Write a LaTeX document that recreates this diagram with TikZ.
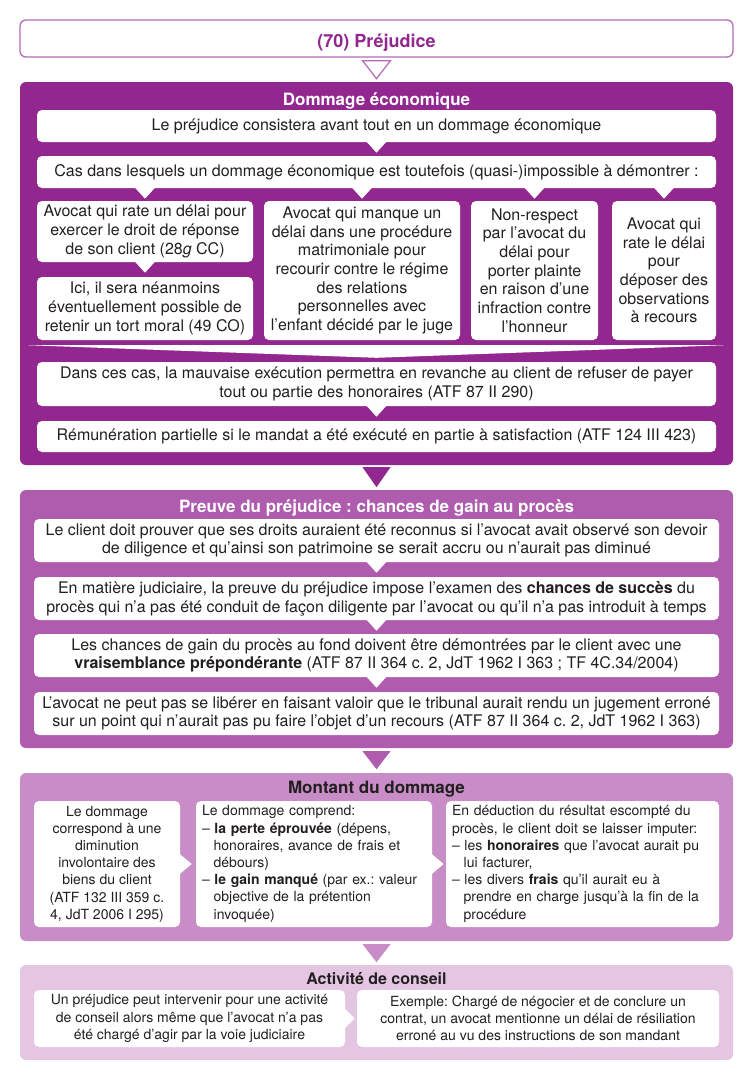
\documentclass[tikz,border=0pt]{standalone}
\usepackage{fontspec}
\setmainfont{TeX Gyre Heros}
\frenchspacing
\definecolor{plum}{HTML}{92278F}
\definecolor{orchid}{HTML}{AF5CAE}
\definecolor{mauve}{HTML}{C88DC7}
\definecolor{lilac}{HTML}{E4C6E3}
\definecolor{rim}{HTML}{B36BB3}
\definecolor{ink}{HTML}{231F20}
\newcommand{\dashgap}{\hspace*{0.834em}}
\tikzset{
	panelbox/.style={rounded corners=6pt, inner sep=0pt},
	cardbox/.style={fill=white, rounded corners=5pt, inner sep=0pt, align=center, text=ink, font=\fontsize{16}{18.7}\selectfont},
	smallcard/.style={font=\fontsize{14}{17.2}\selectfont},
	headtext/.style={anchor=base, font=\fontsize{17}{20}\selectfont\bfseries},
}
\begin{document}
\begin{tikzpicture}[x=1pt, y=-1pt, line join=round]
			\useasboundingbox (0,0) rectangle (752,1079);
			
			\node[draw=rim, line width=1.3pt, rounded corners=6pt, inner sep=0pt, minimum width=713, minimum height=37] (title) at (376.5,38.5) {};
			\node[headtext, text=plum, font=\fontsize{18}{20}\selectfont\bfseries] (titletext) at (376.5,47) {(70) Préjudice};
			\draw[rim, line width=1.2pt, line join=miter] (title.south) ++(-14,3) -- ++(28,0) -- ++(-14,18) -- cycle;
			
			% Dommage economique
			\node[panelbox, fill=plum, minimum width=713, minimum height=383] (dom) at (376.5,273.5) {};
			\node[headtext, text=white] (domhead) at (376.5,105) {Dommage économique};
			\node[cardbox, minimum width=679, minimum height=32] (e1) at (376.5,126) {Le préjudice consistera avant tout en un dommage économique};
			\node[cardbox, minimum width=679, minimum height=32] (e2) at (376.5,172) {Cas dans lesquels un dommage économique est toutefois (quasi-)impossible à démontrer :};
			\node[cardbox, minimum width=216, minimum height=61] (colA) at (145,231.5) {Avocat qui rate un délai pour\\exercer le droit de réponse\\de son client (28\textit{g} CC)};
			\node[cardbox, minimum width=216, minimum height=63] (colAb) at (145,308.5) {Ici, il sera néanmoins\\éventuellement possible de\\retenir un tort moral (49 CO)};
			\node[cardbox, minimum width=196, minimum height=139] (colB) at (362,270.5) {Avocat qui manque un\\délai dans une procédure\\matrimoniale pour\\recourir contre le régime\\des relations\\personnelles avec\\l’enfant décidé par le juge};
			\node[cardbox, minimum width=127, minimum height=139] (colC) at (534.5,270.5) {Non-respect\\par l’avocat du\\délai pour\\porter plainte\\en raison d’une\\infraction contre\\l’honneur};
			\node[cardbox, minimum width=104, minimum height=139] (colD) at (664,270.5) {Avocat qui\\rate le délai\\pour\\déposer des\\observations\\à recours};
			\node[cardbox, minimum width=679, minimum height=44] (dans) at (376.5,384) {Dans ces cas, la mauvaise exécution permettra en revanche au client de refuser de payer\\tout ou partie des honoraires (ATF 87 II 290)};
			\node[cardbox, minimum width=679, minimum height=31] (remu) at (376.5,436.5) {Rémunération partielle si le mandat a été exécuté en partie à satisfaction (ATF 124 III 423)};
			
			\foreach \col in {colA,colB,colC,colD}
				\fill[white] (e2.south -| \col.north) ++(-10,-0.5) -- ++(20,0) -- ++(-10,11) -- cycle;
			\foreach \a in {e1,colA,dans}
				\fill[white] (\a.south) ++(-10,-0.5) -- ++(20,0) -- ++(-10,11) -- cycle;
			\fill[white] ([shift={(-9,5)}]colAb.south west) -- ([shift={(8,5)}]colD.south east) -- ([shift={(0,-4)}]dans.north) -- cycle;
			\fill[plum] (dom.south) ++(-14,2) -- ++(28,0) -- ++(-14,20) -- cycle;
			
			% Preuve
			\node[panelbox, fill=orchid, minimum width=713, minimum height=258] (proof) at (376.5,619) {};
			\node[headtext, text=white] (proofhead) at (376.5,512) {Preuve du préjudice : chances de gain au procès};
			\node[cardbox, minimum width=685, minimum height=43] (p1) at (376.5,540.5) {Le client doit prouver que ses droits auraient été reconnus si l’avocat avait observé son devoir\\de diligence et qu’ainsi son patrimoine se serait accru ou n’aurait pas diminué};
			\node[cardbox, minimum width=685, minimum height=43] (p2) at (376.5,598.5) {En matière judiciaire, la preuve du préjudice impose l’examen des \textbf{chances de succès} du\\procès qui n’a pas été conduit de façon diligente par l’avocat ou qu’il n’a pas introduit à temps};
			\node[cardbox, minimum width=685, minimum height=43] (p3) at (376.5,655.5) {Les chances de gain du procès au fond doivent être démontrées par le client avec une\\\textbf{vraisemblance prépondérante} (ATF 87 II 364 c. 2, JdT 1962 I 363 ; TF 4C.34/2004)};
			\node[cardbox, minimum width=685, minimum height=43] (p4) at (376.5,713.5) {L’avocat ne peut pas se libérer en faisant valoir que le tribunal aurait rendu un jugement erroné\\sur un point qui n’aurait pas pu faire l’objet d’un recours (ATF 87 II 364 c. 2, JdT 1962 I 363)};
			\foreach \a in {p1,p2,p3}
				\fill[white] (\a.south) ++(-10,-0.5) -- ++(20,0) -- ++(-10,11) -- cycle;
			\fill[orchid] (proof.south) ++(-14,3) -- ++(28,0) -- ++(-14,18) -- cycle;
			
			% Montant
			\node[panelbox, fill=mauve, minimum width=713, minimum height=168] (amount) at (376.5,857) {};
			\node[headtext, text=ink] (amounthead) at (376.5,793) {Montant du dommage};
			\node[cardbox, smallcard, minimum width=146, minimum height=126] (m1) at (107,864) {Le dommage\\correspond à une\\diminution\\involontaire des\\biens du client\\(ATF 132 III 359 c.\\4, JdT 2006 I 295)};
			\node[cardbox, smallcard, align=left, text width=224, inner xsep=6pt, minimum height=126] (m2) at (314,864) {Le dommage comprend:\\– \textbf{la perte éprouvée} (dépens,\\\dashgap honoraires, avance de frais et\\\dashgap débours)\\– \textbf{le gain manqué} (par ex.: valeur\\\dashgap objective de la prétention\\\dashgap invoquée)};
			\node[cardbox, smallcard, align=left, text width=261, inner xsep=6pt, minimum height=126] (m3) at (582.5,864) {En déduction du résultat escompté du\\procès, le client doit se laisser imputer:\\– les \textbf{honoraires} que l’avocat aurait pu\\\dashgap lui facturer,\\– les divers \textbf{frais} qu’il aurait eu à\\\dashgap prendre en charge jusqu’à la fin de la\\\dashgap procédure};
			\foreach \a in {m1,m2}
				\fill[white] (\a.east) ++(-0.5,-10) -- ++(0,20) -- ++(12,-10) -- cycle;
			\fill[mauve] (amount.south) ++(-14,3) -- ++(28,0) -- ++(-14,18) -- cycle;
			
			% Activite de conseil
			\node[panelbox, fill=lilac, minimum width=713, minimum height=95] (advice) at (376.5,1012.5) {};
			\node[headtext, text=ink, font=\fontsize{16}{20}\selectfont\bfseries] (advicehead) at (376.5,984) {Activité de conseil};
			\node[cardbox, smallcard, minimum width=311, minimum height=57] (c1) at (189.5,1018.5) {Un préjudice peut intervenir pour une activité\\de conseil alors même que l’avocat n’a pas\\été chargé d’agir par la voie judiciaire};
			\node[cardbox, smallcard, minimum width=362, minimum height=57] (c2) at (538,1018.5) {Exemple: Chargé de négocier et de conclure un\\contrat, un avocat mentionne un délai de résiliation\\erroné au vu des instructions de son mandant};
			\fill[white] (c1.east) ++(-0.5,-10) -- ++(0,20) -- ++(10,-10) -- cycle;
			
		\end{tikzpicture}
\end{document}
